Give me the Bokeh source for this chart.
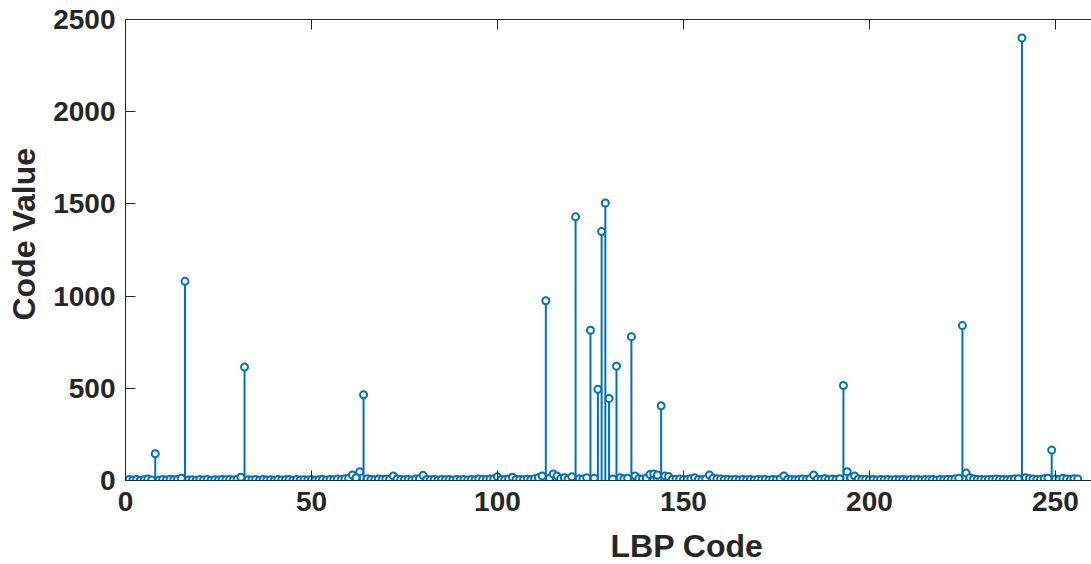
import numpy as np
from bokeh.plotting import figure
from bokeh.models import Range1d, LinearAxis, FixedTicker, Title, ColumnDataSource
from bokeh.embed import file_html
from bokeh.resources import INLINE

# LBP code index (1..256) and histogram value
lbp_codes = list(range(1, 257))
code_values = [
    5, 3, 6, 2, 4, 8, 3, 145, 2, 5, 3, 7, 4, 6, 12, 1080,
    3, 4, 2, 6, 3, 5, 2, 4, 3, 6, 4, 5, 3, 7, 18, 615,
    4, 3, 5, 2, 6, 3, 4, 2, 5, 3, 4, 6, 2, 5, 3, 4,
    3, 5, 2, 4, 6, 3, 5, 4, 8, 6, 10, 12, 30, 15, 48, 465,
    10, 6, 4, 8, 5, 7, 6, 25, 8, 5, 4, 6, 3, 8, 10, 28,
    6, 4, 5, 3, 6, 4, 5, 3, 6, 4, 5, 3, 6, 4, 8, 5,
    6, 8, 10, 20, 6, 5, 8, 18, 6, 5, 4, 7, 6, 10, 15, 25,
    975, 12, 35, 25, 10, 15, 8, 20, 1430, 10, 8, 15, 815, 12, 495, 1350,
    1505, 445, 8, 620, 15, 10, 12, 780, 25, 10, 8, 12, 32, 35, 30, 405,
    25, 22, 6, 5, 8, 4, 6, 10, 15, 6, 4, 8, 30, 12, 10, 8,
    6, 5, 4, 6, 3, 5, 4, 6, 3, 5, 4, 6, 3, 5, 4, 8,
    25, 6, 5, 4, 6, 8, 5, 10, 30, 8, 6, 10, 5, 8, 6, 10,
    515, 48, 15, 25, 8, 6, 5, 4, 6, 3, 5, 4, 6, 3, 5, 4,
    6, 3, 5, 4, 6, 3, 5, 4, 6, 3, 5, 4, 6, 5, 8, 12,
    840, 40, 15, 8, 6, 5, 4, 6, 5, 8, 6, 5, 4, 6, 8, 10,
    2400, 15, 10, 8, 6, 5, 10, 12, 165, 8, 6, 12, 8, 5, 10, 8,
]
x_ticks = [0, 50, 100, 150, 200, 250]
y_ticks = [0, 500, 1000, 1500, 2000, 2500]
x_label = "LBP Code"
y_label = "Code Value"

STEM = "#0072BD"
AX = "#262626"
FONT = "Liberation Sans"

src = ColumnDataSource(dict(x=lbp_codes, y=code_values, y0=[0] * len(lbp_codes)))

p = figure(width=1091, height=564, output_backend="svg", toolbar_location=None,
           x_range=Range1d(0, 259.7), y_range=Range1d(0, 2500),
           x_axis_location=None, y_axis_location=None,
           min_border_left=125, min_border_right=0, min_border_top=19, min_border_bottom=84)
p.outline_line_color = None
p.grid.visible = False
p.background_fill_color = "white"
p.border_fill_color = "white"

def style_axis(ax, labels=True, standoff=8):
    ax.axis_line_color = AX
    ax.axis_line_width = 1
    ax.major_tick_line_color = AX
    ax.major_tick_line_width = 1
    ax.major_tick_in = 10
    ax.major_tick_out = 0
    ax.minor_tick_line_color = None
    ax.major_label_text_font = FONT
    ax.major_label_text_font_style = "bold"
    if labels:
        ax.major_label_text_color = AX
        ax.major_label_text_font_size = "28px"
    else:
        ax.major_label_text_color = None
        ax.major_label_text_font_size = "1px"
    ax.major_label_standoff = standoff

def spacer(ticks, gap):
    ax = LinearAxis(ticker=FixedTicker(ticks=ticks))
    ax.axis_line_alpha = 0
    ax.major_tick_line_alpha = 0
    ax.major_tick_in = 0
    ax.major_tick_out = gap
    ax.minor_tick_line_color = None
    ax.major_label_text_color = None
    ax.major_label_text_font_size = "1px"
    ax.major_label_standoff = 0
    return ax

# left: tick-label axis, spacer, then title
yax = LinearAxis(ticker=FixedTicker(ticks=y_ticks))
style_axis(yax, standoff=10)
p.add_layout(yax, "left")
p.add_layout(spacer(y_ticks, 9), "left")

# bottom: tick-label axis, spacer, then title
xax = LinearAxis(ticker=FixedTicker(ticks=x_ticks))
style_axis(xax, standoff=11)
p.add_layout(xax, "below")
p.add_layout(spacer(x_ticks, 12), "below")

# top box edge with inward ticks
tax = LinearAxis(ticker=FixedTicker(ticks=x_ticks))
style_axis(tax, labels=False, standoff=0)
p.add_layout(tax, "above")

p.segment(x0="x", y0="y0", x1="x", y1="y", source=src, line_color=STEM, line_width=2)
p.scatter(x="x", y="y", source=src, marker="circle", size=7, line_color=STEM,
          line_width=2, fill_color="white")

xt = Title(text=x_label, align="left", offset=485, standoff=0,
           text_font=FONT, text_font_style="bold", text_font_size="32px", text_color=AX)
p.add_layout(xt, "below")
yt = Title(text=y_label, align="left", offset=160, standoff=0,
           text_font=FONT, text_font_style="bold", text_font_size="32px", text_color=AX)
p.add_layout(yt, "left")

open("out.html", "w").write(file_html(p, INLINE))
